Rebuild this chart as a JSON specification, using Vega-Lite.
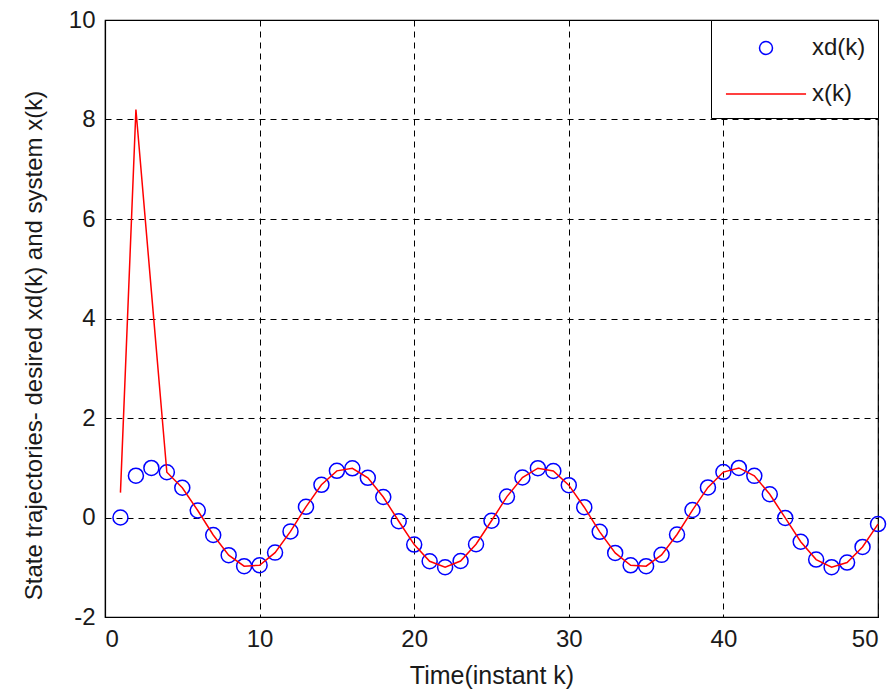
{
  "$schema": "https://vega.github.io/schema/vega-lite/v6.json",
  "width": 773,
  "height": 597,
  "autosize": {"type": "none"},
  "padding": {"left": 105, "top": 20, "right": 15, "bottom": 76},
  "background": "white",
  "config": {
    "font": "Liberation Sans",
    "view": {"stroke": "black", "strokeWidth": 1.2},
    "axis": {
      "domainColor": "black",
      "domainWidth": 1.2,
      "gridColor": "black",
      "gridDash": [6, 5],
      "gridOpacity": 1,
      "gridWidth": 1,
      "tickSize": 0,
      "labelFontSize": 24,
      "labelColor": "#1a1a1a",
      "titleFontSize": 25,
      "titleFontWeight": "normal",
      "titleColor": "#1a1a1a",
      "labelPadding": 10,
      "labelExpr": "'' + datum.value"
    }
  },
  "data": {
    "values": [
      {"k": 1, "series": "xd(k)", "value": 0},
      {"k": 2, "series": "xd(k)", "value": 0.841},
      {"k": 3, "series": "xd(k)", "value": 0.997},
      {"k": 4, "series": "xd(k)", "value": 0.909},
      {"k": 5, "series": "xd(k)", "value": 0.598},
      {"k": 6, "series": "xd(k)", "value": 0.141},
      {"k": 7, "series": "xd(k)", "value": -0.351},
      {"k": 8, "series": "xd(k)", "value": -0.757},
      {"k": 9, "series": "xd(k)", "value": -0.978},
      {"k": 10, "series": "xd(k)", "value": -0.959},
      {"k": 11, "series": "xd(k)", "value": -0.706},
      {"k": 12, "series": "xd(k)", "value": -0.279},
      {"k": 13, "series": "xd(k)", "value": 0.215},
      {"k": 14, "series": "xd(k)", "value": 0.657},
      {"k": 15, "series": "xd(k)", "value": 0.938},
      {"k": 16, "series": "xd(k)", "value": 0.989},
      {"k": 17, "series": "xd(k)", "value": 0.798},
      {"k": 18, "series": "xd(k)", "value": 0.412},
      {"k": 19, "series": "xd(k)", "value": -0.075},
      {"k": 20, "series": "xd(k)", "value": -0.544},
      {"k": 21, "series": "xd(k)", "value": -0.88},
      {"k": 22, "series": "xd(k)", "value": -1.0},
      {"k": 23, "series": "xd(k)", "value": -0.875},
      {"k": 24, "series": "xd(k)", "value": -0.537},
      {"k": 25, "series": "xd(k)", "value": -0.066},
      {"k": 26, "series": "xd(k)", "value": 0.42},
      {"k": 27, "series": "xd(k)", "value": 0.804},
      {"k": 28, "series": "xd(k)", "value": 0.991},
      {"k": 29, "series": "xd(k)", "value": 0.935},
      {"k": 30, "series": "xd(k)", "value": 0.65},
      {"k": 31, "series": "xd(k)", "value": 0.207},
      {"k": 32, "series": "xd(k)", "value": -0.288},
      {"k": 33, "series": "xd(k)", "value": -0.712},
      {"k": 34, "series": "xd(k)", "value": -0.961},
      {"k": 35, "series": "xd(k)", "value": -0.978},
      {"k": 36, "series": "xd(k)", "value": -0.751},
      {"k": 37, "series": "xd(k)", "value": -0.342},
      {"k": 38, "series": "xd(k)", "value": 0.15},
      {"k": 39, "series": "xd(k)", "value": 0.605},
      {"k": 40, "series": "xd(k)", "value": 0.913},
      {"k": 41, "series": "xd(k)", "value": 0.996},
      {"k": 42, "series": "xd(k)", "value": 0.837},
      {"k": 43, "series": "xd(k)", "value": 0.467},
      {"k": 44, "series": "xd(k)", "value": -0.009},
      {"k": 45, "series": "xd(k)", "value": -0.487},
      {"k": 46, "series": "xd(k)", "value": -0.846},
      {"k": 47, "series": "xd(k)", "value": -0.998},
      {"k": 48, "series": "xd(k)", "value": -0.906},
      {"k": 49, "series": "xd(k)", "value": -0.592},
      {"k": 50, "series": "xd(k)", "value": -0.132},
      {"k": 1, "series": "x(k)", "value": 0.5},
      {"k": 2, "series": "x(k)", "value": 8.2},
      {"k": 3, "series": "x(k)", "value": 4.55},
      {"k": 4, "series": "x(k)", "value": 0.909},
      {"k": 5, "series": "x(k)", "value": 0.598},
      {"k": 6, "series": "x(k)", "value": 0.141},
      {"k": 7, "series": "x(k)", "value": -0.351},
      {"k": 8, "series": "x(k)", "value": -0.757},
      {"k": 9, "series": "x(k)", "value": -0.978},
      {"k": 10, "series": "x(k)", "value": -0.959},
      {"k": 11, "series": "x(k)", "value": -0.706},
      {"k": 12, "series": "x(k)", "value": -0.279},
      {"k": 13, "series": "x(k)", "value": 0.215},
      {"k": 14, "series": "x(k)", "value": 0.657},
      {"k": 15, "series": "x(k)", "value": 0.938},
      {"k": 16, "series": "x(k)", "value": 0.989},
      {"k": 17, "series": "x(k)", "value": 0.798},
      {"k": 18, "series": "x(k)", "value": 0.412},
      {"k": 19, "series": "x(k)", "value": -0.075},
      {"k": 20, "series": "x(k)", "value": -0.544},
      {"k": 21, "series": "x(k)", "value": -0.88},
      {"k": 22, "series": "x(k)", "value": -1.0},
      {"k": 23, "series": "x(k)", "value": -0.875},
      {"k": 24, "series": "x(k)", "value": -0.537},
      {"k": 25, "series": "x(k)", "value": -0.066},
      {"k": 26, "series": "x(k)", "value": 0.42},
      {"k": 27, "series": "x(k)", "value": 0.804},
      {"k": 28, "series": "x(k)", "value": 0.991},
      {"k": 29, "series": "x(k)", "value": 0.935},
      {"k": 30, "series": "x(k)", "value": 0.65},
      {"k": 31, "series": "x(k)", "value": 0.207},
      {"k": 32, "series": "x(k)", "value": -0.288},
      {"k": 33, "series": "x(k)", "value": -0.712},
      {"k": 34, "series": "x(k)", "value": -0.961},
      {"k": 35, "series": "x(k)", "value": -0.978},
      {"k": 36, "series": "x(k)", "value": -0.751},
      {"k": 37, "series": "x(k)", "value": -0.342},
      {"k": 38, "series": "x(k)", "value": 0.15},
      {"k": 39, "series": "x(k)", "value": 0.605},
      {"k": 40, "series": "x(k)", "value": 0.913},
      {"k": 41, "series": "x(k)", "value": 0.996},
      {"k": 42, "series": "x(k)", "value": 0.837},
      {"k": 43, "series": "x(k)", "value": 0.467},
      {"k": 44, "series": "x(k)", "value": -0.009},
      {"k": 45, "series": "x(k)", "value": -0.487},
      {"k": 46, "series": "x(k)", "value": -0.846},
      {"k": 47, "series": "x(k)", "value": -0.998},
      {"k": 48, "series": "x(k)", "value": -0.906},
      {"k": 49, "series": "x(k)", "value": -0.592},
      {"k": 50, "series": "x(k)", "value": -0.132}
    ]
  },
  "encoding": {
    "x": {
      "field": "k",
      "type": "quantitative",
      "scale": {"domain": [0, 50], "nice": false},
      "axis": {"values": [0, 10, 20, 30, 40, 50], "title": "Time(instant k)", "titlePadding": 12}
    },
    "y": {
      "field": "value",
      "type": "quantitative",
      "scale": {"domain": [-2, 10], "nice": false},
      "axis": {"values": [-2, 0, 2, 4, 6, 8, 10], "title": "State trajectories- desired xd(k) and system x(k)", "titleFontSize": 24, "titlePadding": 22, "titleY": 325}
    }
  },
  "layer": [
    {
      "transform": [{"filter": "datum.series === 'xd(k)'"}],
      "mark": {"type": "point", "filled": false, "strokeWidth": 1.5, "size": 1200, "opacity": 1},
      "encoding": {
        "color": {
          "field": "series",
          "type": "nominal",
          "scale": {"domain": ["xd(k)", "x(k)"], "range": ["#0000ff", "#ff0000"]},
          "legend": {
            "orient": "top-right",
            "offset": 0,
            "title": null,
            "padding": 12,
            "fillColor": "white",
            "strokeColor": "black",
            "symbolSize": 900,
            "symbolStrokeWidth": 1.5,
            "symbolOffset": 27,
            "labelOffset": 30,
            "labelFontSize": 24,
            "labelColor": "#1a1a1a",
            "rowPadding": 18,
            "cornerRadius": 0
          }
        },
        "shape": {
          "field": "series",
          "type": "nominal",
          "scale": {
            "domain": ["xd(k)", "x(k)"],
            "range": ["M-0.433,0A0.433,0.433,0,1,0,0.433,0A0.433,0.433,0,1,0,-0.433,0Z", "M-2.67,0L2.67,0"]
          },
          "legend": {
            "orient": "top-right",
            "offset": 0,
            "title": null,
            "padding": 12,
            "fillColor": "white",
            "strokeColor": "black",
            "symbolSize": 900,
            "symbolStrokeWidth": 1.5,
            "symbolOffset": 27,
            "labelOffset": 30,
            "labelFontSize": 24,
            "labelColor": "#1a1a1a",
            "rowPadding": 18,
            "cornerRadius": 0
          }
        }
      }
    },
    {
      "transform": [{"filter": "datum.series === 'x(k)'"}],
      "mark": {"type": "line", "strokeWidth": 1.5},
      "encoding": {
        "color": {"field": "series", "type": "nominal", "legend": null}
      }
    }
  ]
}
